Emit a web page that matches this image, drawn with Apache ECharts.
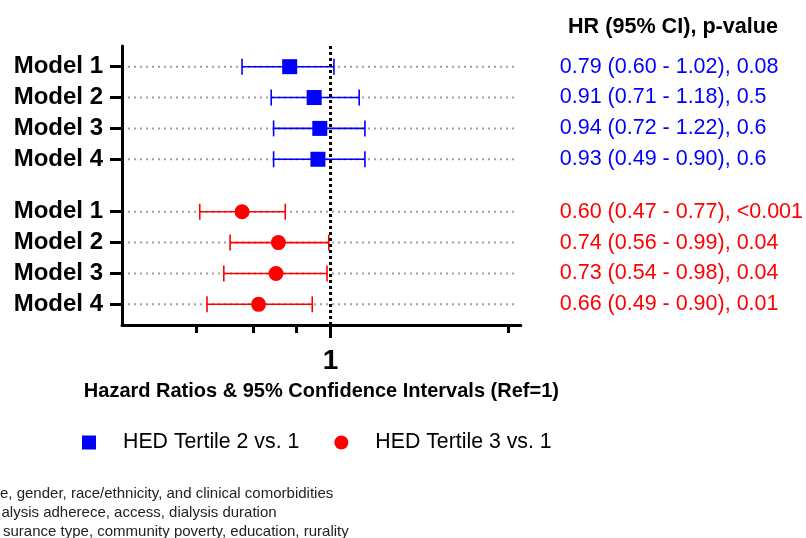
<!DOCTYPE html>
<html>
<head>
<meta charset="utf-8">
<script src="https://cdn.jsdelivr.net/npm/echarts@6/dist/echarts.min.js"></script>
<style>
html,body{margin:0;padding:0;background:#fff;}
#main{width:806px;height:538px;}
</style>
</head>
<body>
<div id="main"></div>
<script>
// ---- data ----
var modelLabels = ['Model 1', 'Model 2', 'Model 3', 'Model 4'];
var t2Name = 'HED Tertile 2 vs. 1';
var t3Name = 'HED Tertile 3 vs. 1';
var t2HR = [0.79, 0.91, 0.94, 0.93];
var t2Lo = [0.60, 0.71, 0.72, 0.72];
var t2Hi = [1.02, 1.18, 1.22, 1.22];
var t3HR = [0.60, 0.74, 0.73, 0.66];
var t3Lo = [0.47, 0.56, 0.54, 0.49];
var t3Hi = [0.77, 0.99, 0.98, 0.90];
var t2Text = ['0.79 (0.60 - 1.02), 0.08', '0.91 (0.71 - 1.18), 0.5', '0.94 (0.72 - 1.22), 0.6', '0.93 (0.49 - 0.90), 0.6'];
var t3Text = ['0.60 (0.47 - 0.77), <0.001', '0.74 (0.56 - 0.99), 0.04', '0.73 (0.54 - 0.98), 0.04', '0.66 (0.49 - 0.90), 0.01'];
var xTickValues = [0.46, 0.64, 0.82, 2.79];
var refValue = 1;
var xLabelValues = [1];
var headerText = 'HR (95% CI), p-value';
var xAxisTitle = 'Hazard Ratios & 95% Confidence Intervals (Ref=1)';
var footnotes = [
  'e, gender, race/ethnicity, and clinical comorbidities',
  'alysis adherece, access, dialysis duration',
  'surance type, community poverty, education, rurality'
];

// ---- layout helpers ----
var groupGap = 1.7;
var t2Rows = modelLabels.map(function (_, i) { return i; });
var t3Rows = modelLabels.map(function (_, i) { return modelLabels.length - 1 + groupGap + i; });
var allRows = t2Rows.concat(t3Rows);
var BLUE = '#0000FF', RED = '#FF0000';

function rowIndex(v) {
  for (var i = 0; i < allRows.length; i++) if (Math.abs(allRows[i] - v) < 1e-6) return i;
  return -1;
}

var chart = echarts.init(document.getElementById('main'), null, {renderer: 'canvas'});

function errBars(color) {
  return function (params, api) {
    var y = api.value(2);
    var p1 = api.coord([api.value(0), y]);
    var p2 = api.coord([api.value(1), y]);
    var h = 8;
    var st = {stroke: color, lineWidth: 1.6};
    return {
      type: 'group',
      children: [
        {type: 'line', shape: {x1: p1[0], y1: p1[1], x2: p2[0], y2: p2[1]}, style: st},
        {type: 'line', shape: {x1: p1[0], y1: p1[1] - h, x2: p1[0], y2: p1[1] + h}, style: st},
        {type: 'line', shape: {x1: p2[0], y1: p2[1] - h, x2: p2[0], y2: p2[1] + h}, style: st}
      ]
    };
  };
}

var option = {
  animation: false,
  textStyle: {fontFamily: 'Liberation Sans, Arial, sans-serif'},
  grid: {left: 122, right: 283, top: 46, bottom: 213, containLabel: false},
  xAxis: [{
    type: 'log', logBase: 10, min: 0.3, max: 3,
    position: 'bottom',
    axisLine: {show: true, onZero: false, lineStyle: {color: '#000', width: 3}},
    axisTick: {show: true, customValues: xTickValues, length: 8, lineStyle: {color: '#000', width: 3}},
    axisLabel: {customValues: xLabelValues, formatter: function (v) { return String(Math.round(v)); },
      fontSize: 28, fontWeight: 'bold', color: '#000', margin: 22, fontFamily: 'Liberation Sans'},
    splitLine: {show: false},
    minorTick: {show: false},
    name: xAxisTitle, nameLocation: 'middle', nameGap: 56,
    nameTextStyle: {fontSize: 20, fontWeight: 'bold', color: '#000', fontFamily: 'Liberation Sans'}
  }, {
    type: 'log', logBase: 10, min: 0.3, max: 3,
    position: 'bottom', gridIndex: 0,
    axisLine: {show: false, onZero: false},
    axisTick: {show: true, customValues: [refValue], length: 13, lineStyle: {color: '#000', width: 3}},
    axisLabel: {show: false},
    splitLine: {show: false}
  }],
  yAxis: [{
    type: 'value', min: -0.67, max: 8.37, inverse: true,
    position: 'left',
    axisLine: {show: true, onZero: false, lineStyle: {color: '#000', width: 3}},
    axisTick: {show: true, customValues: allRows, length: 12, lineStyle: {color: '#000', width: 3}},
    axisLabel: {customValues: allRows, margin: 19,
      formatter: function (v) { var i = rowIndex(v); return i < 0 ? '' : modelLabels[i % modelLabels.length]; },
      fontSize: 24, fontWeight: 'bold', color: '#000', fontFamily: 'Liberation Sans'},
    splitLine: {show: false}
  }, {
    type: 'value', min: -0.67, max: 8.37, inverse: true,
    position: 'right',
    axisLine: {show: false, onZero: false},
    axisTick: {show: false},
    axisLabel: {customValues: allRows, margin: 39, align: 'left',
      formatter: function (v) {
        var i = rowIndex(v);
        if (i < 0) return '';
        return i < 4 ? '{b|' + t2Text[i] + '}' : '{r|' + t3Text[i - 4] + '}';
      },
      rich: {
        b: {color: BLUE, fontSize: 21.5, fontFamily: 'Liberation Sans'},
        r: {color: RED, fontSize: 21.5, fontFamily: 'Liberation Sans'}
      }},
    splitLine: {show: false}
  }],
  legend: {
    left: 77, top: 427,
    data: [t2Name, t3Name],
    itemWidth: 14, itemHeight: 14, itemGap: 35,
    textStyle: {fontSize: 21.3, color: '#000', padding: [0, 0, 0, 22], fontFamily: 'Liberation Sans'}
  },
  graphic: [
    {type: 'text', x: 673, y: 27, style: {text: headerText, font: 'bold 21.6px Liberation Sans', fill: '#000', align: 'center', verticalAlign: 'middle'}},
    {type: 'text', x: 0, y: 494, style: {text: footnotes[0], font: '15px Liberation Sans', fill: '#222', align: 'left', verticalAlign: 'middle'}},
    {type: 'text', x: 1.5, y: 513, style: {text: footnotes[1], font: '15px Liberation Sans', fill: '#222', align: 'left', verticalAlign: 'middle'}},
    {type: 'text', x: 3, y: 532, style: {text: footnotes[2], font: '15px Liberation Sans', fill: '#222', align: 'left', verticalAlign: 'middle'}}
  ],
  series: [
    {
      name: 'grid rows', type: 'custom', z: 1, silent: true,
      data: allRows.map(function (r) { return [r]; }),
      encode: {y: 0},
      renderItem: function (params, api) {
        var cs = params.coordSys;
        var y = api.coord([1, api.value(0)])[1];
        return {type: 'line', shape: {x1: cs.x + 6, y1: y, x2: cs.x + cs.width - 4, y2: y},
          style: {stroke: '#a0a0a0', lineWidth: 2, lineDash: [2, 4]}};
      }
    },
    {
      name: 't2 ci', type: 'custom', z: 2, silent: true,
      data: t2Lo.map(function (lo, i) { return [lo, t2Hi[i], t2Rows[i]]; }),
      encode: {x: [0, 1], y: 2},
      renderItem: errBars(BLUE)
    },
    {
      name: 't3 ci', type: 'custom', z: 2, silent: true,
      data: t3Lo.map(function (lo, i) { return [lo, t3Hi[i], t3Rows[i]]; }),
      encode: {x: [0, 1], y: 2},
      renderItem: errBars(RED)
    },
    {
      name: 'ref', type: 'scatter', z: 3, silent: true, data: [],
      markLine: {
        silent: true, symbol: 'none', label: {show: false},
        lineStyle: {color: '#000', width: 3, type: [3, 3]},
        data: [{xAxis: refValue}]
      }
    },
    {
      name: t2Name, type: 'scatter', z: 4, symbol: 'rect', symbolSize: 15,
      itemStyle: {color: BLUE, opacity: 1},
      data: t2HR.map(function (v, i) { return [v, t2Rows[i]]; })
    },
    {
      name: t3Name, type: 'scatter', z: 4, symbol: 'circle', symbolSize: 15,
      itemStyle: {color: RED, opacity: 1},
      data: t3HR.map(function (v, i) { return [v, t3Rows[i]]; })
    }
  ]
};
chart.setOption(option);
</script>
</body>
</html>
